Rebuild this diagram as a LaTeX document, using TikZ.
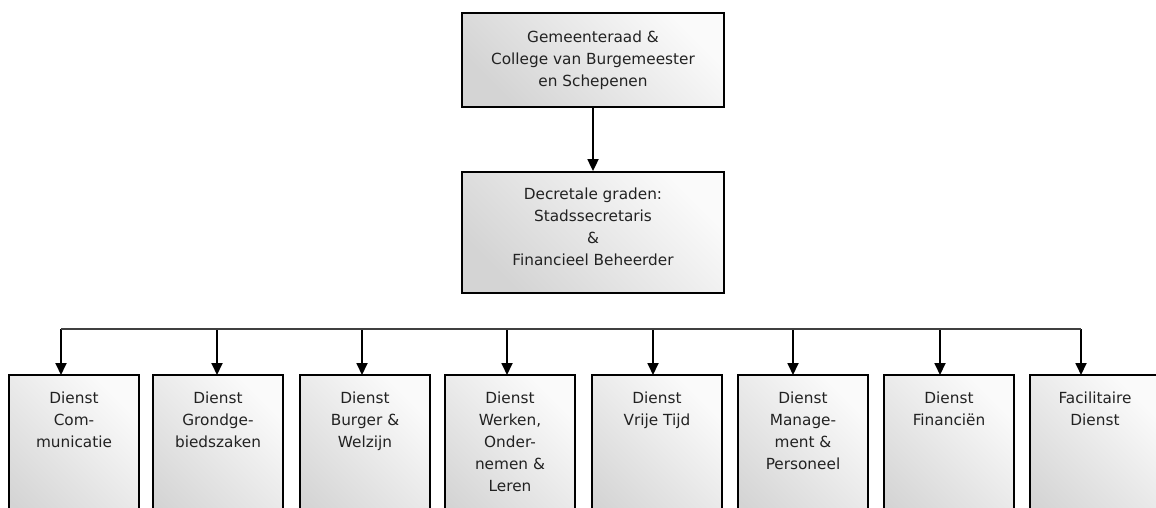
\documentclass[tikz,border=0pt]{standalone}
\usepackage{fontspec}
\setmainfont{DejaVu Sans}
\usetikzlibrary{arrows.meta}
\definecolor{boxlight}{HTML}{FAFAFA}
\definecolor{boxdark}{HTML}{D4D4D4}
\definecolor{txt}{HTML}{222222}
\begin{document}
\begin{tikzpicture}[x=1pt,y=-1pt,
  box/.style={draw=black, line width=1.8pt, rectangle, inner sep=0pt,
    top color=boxlight, bottom color=boxdark, shading angle=-45},
  lbl/.style={font=\fontsize{15.3}{22}\selectfont, text=txt, align=center, inner sep=0pt, anchor=north},
  arr/.style={line width=1.8pt, -{Triangle[length=12pt,width=11pt]}},
  bus/.style={line width=1.2pt, draw=black!75}]
\useasboundingbox (0,0) rectangle (1156,507);
\clip (0,0) rectangle (1156,507);
% top
\node[box, minimum width=262pt, minimum height=94pt] (top) at (593,60) {};
\node[lbl] (toptxt) at (593,30.5) {Gemeenteraad \&\\College van Burgemeester\\en Schepenen};
\node[box, minimum width=262pt, minimum height=121pt] (mid) at (593,232.5) {};
\node[lbl] (midtxt) at (593,187.4) {Decretale graden:\\Stadssecretaris\\\&\\Financieel Beheerder};
\draw[arr] (top.south) -- (mid.north);
% bottom boxes
\foreach \i/\x/\ax/\t in {
  1/74/61/{Dienst\\Com-\\municatie},
  2/218/217/{Dienst\\Grondge-\\biedszaken},
  3/365/362/{Dienst\\Burger \&\\Welzijn},
  4/510/507/{Dienst\\Werken,\\Onder-\\nemen \&\\Leren},
  5/657/653/{Dienst\\Vrije Tijd},
  6/803/793/{Dienst\\Manage-\\ment \&\\Personeel},
  7/949/940/{Dienst\\Financiën},
  8/1095/1081/{Facilitaire\\Dienst}} {
  \node[box, minimum width=130pt, minimum height=170pt] (b\i) at (\x,460) {};
  \node[lbl] (t\i) at (\x,391.4) {\t};
  \coordinate (c\i) at (\ax,329);
  \coordinate (e\i) at (\ax,375);
  \draw[arr] (c\i) -- (e\i);
}
\draw[bus] (c1) -- (c8);
\end{tikzpicture}
\end{document}
